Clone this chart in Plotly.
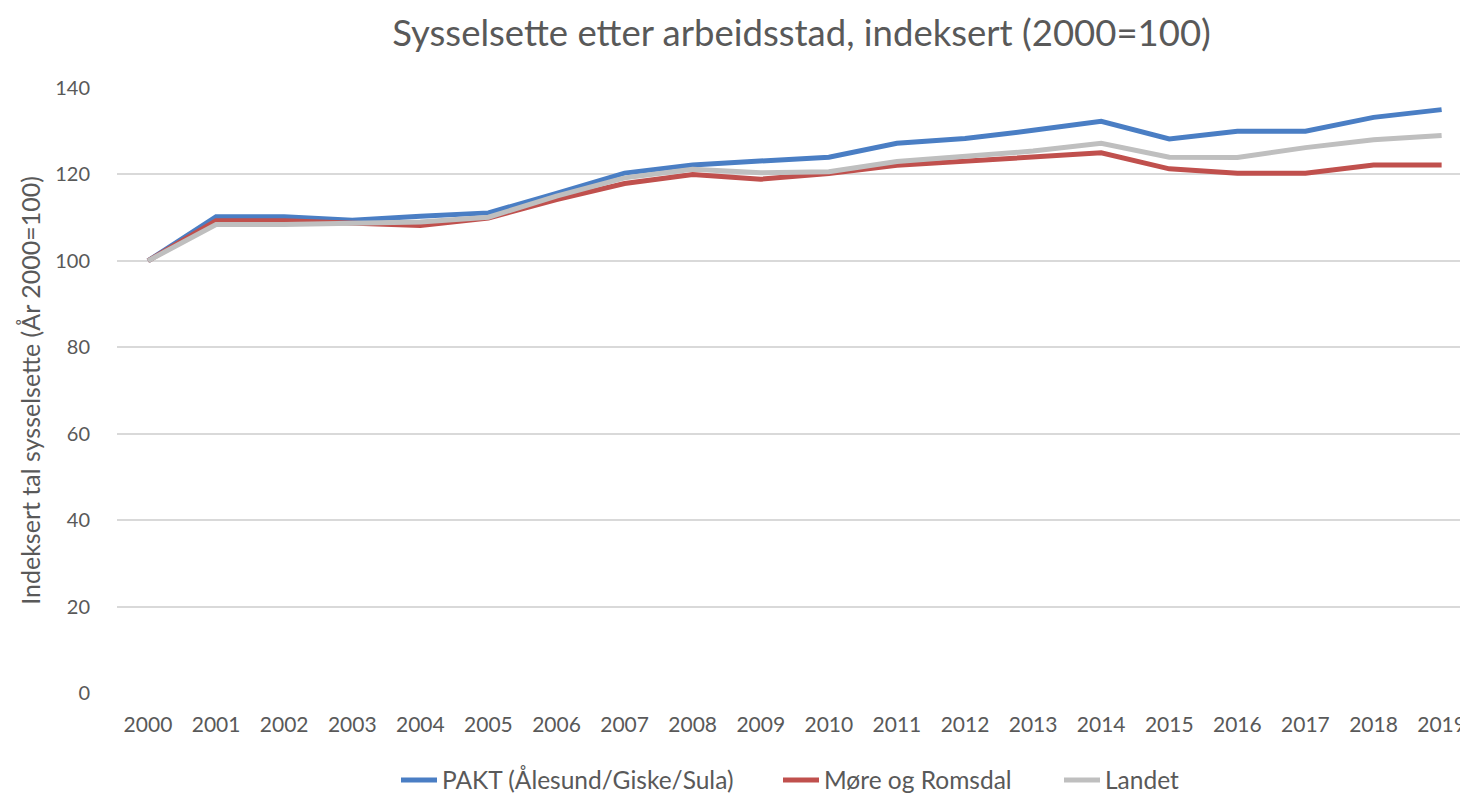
import plotly.graph_objects as go

years = list(range(2000, 2020))
pakt = [100, 110.2, 110.2, 109.4, 110.3, 111.1, 115.6, 120.3, 122.2, 123.2, 124.0,
        127.2, 128.3, 130.2, 132.3, 128.2, 130.0, 130.0, 133.2, 135.0]
more = [100, 109.3, 109.3, 108.7, 108.2, 109.9, 114.2, 117.9, 120.0, 118.9, 120.2,
        122.1, 123.0, 124.0, 125.0, 121.3, 120.3, 120.3, 122.2, 122.2]
landet = [100, 108.4, 108.4, 108.6, 109.0, 110.1, 115.0, 119.2, 121.2, 120.4, 120.6,
          123.0, 124.2, 125.4, 127.2, 124.0, 123.9, 126.2, 128.0, 129.0]

names = ["PAKT (Ålesund/Giske/Sula)", "Møre og Romsdal", "Landet"]
colors = ["#4A7EC4", "#C0504D", "#BFBFBF"]
series = [pakt, more, landet]
legend_ids = ["legend", "legend2", "legend3"]
legend_x = [396, 778, 1059]

font_family = "Lato, 'Open Sans', sans-serif"
txt = "#595959"

fig = go.Figure()
for n, c, s, lg in zip(names, colors, series, legend_ids):
    fig.add_trace(go.Scatter(x=years, y=s, name=n, mode="lines", legend=lg,
                             line=dict(color=c, width=5)))

def legend_cfg(xpx):
    return dict(orientation="h", xref="container", x=xpx / 1460, xanchor="left",
                yref="container", y=(795 - 780) / 795, yanchor="middle",
                font=dict(size=24.5, color=txt, family=font_family),
                itemwidth=36, bgcolor="rgba(0,0,0,0)")

fig.update_layout(
    width=1460, height=795,
    paper_bgcolor="white", plot_bgcolor="white",
    margin=dict(l=117, r=0, t=88, b=102, autoexpand=False),
    font=dict(family=font_family, color=txt),
    title=dict(text="Sysselsette etter arbeidsstad, indeksert (2000=100)",
               x=0.549, xanchor="center", yref="container", y=0.958, yanchor="middle",
               font=dict(size=36.5, color=txt, family=font_family)),
    showlegend=True,
    legend=legend_cfg(legend_x[0]),
    legend2=legend_cfg(legend_x[1]),
    legend3=legend_cfg(legend_x[2]),
)
fig.update_xaxes(range=[1999.545, 2019.27], tickmode="array", tickvals=years,
                 ticktext=[str(y) for y in years], showgrid=False, zeroline=False,
                 showline=False, ticks="", tickfont=dict(size=21, color=txt),
                 ticklabelstandoff=17, ticklabeloverflow="allow")
fig.update_yaxes(range=[0, 140], tickvals=list(range(0, 141, 20)),
                 gridcolor="#D9D9D9", gridwidth=1.5, zeroline=False, showline=False,
                 tickfont=dict(size=20, color=txt), ticks="", ticklabelstandoff=26,
                 title=dict(text="Indeksert tal sysselsette (År 2000=100)",
                            font=dict(size=25, color=txt), standoff=7))

fig.write_html("out.html", config={"displayModeBar": False},
               post_script="document.body.style.margin='0';")
